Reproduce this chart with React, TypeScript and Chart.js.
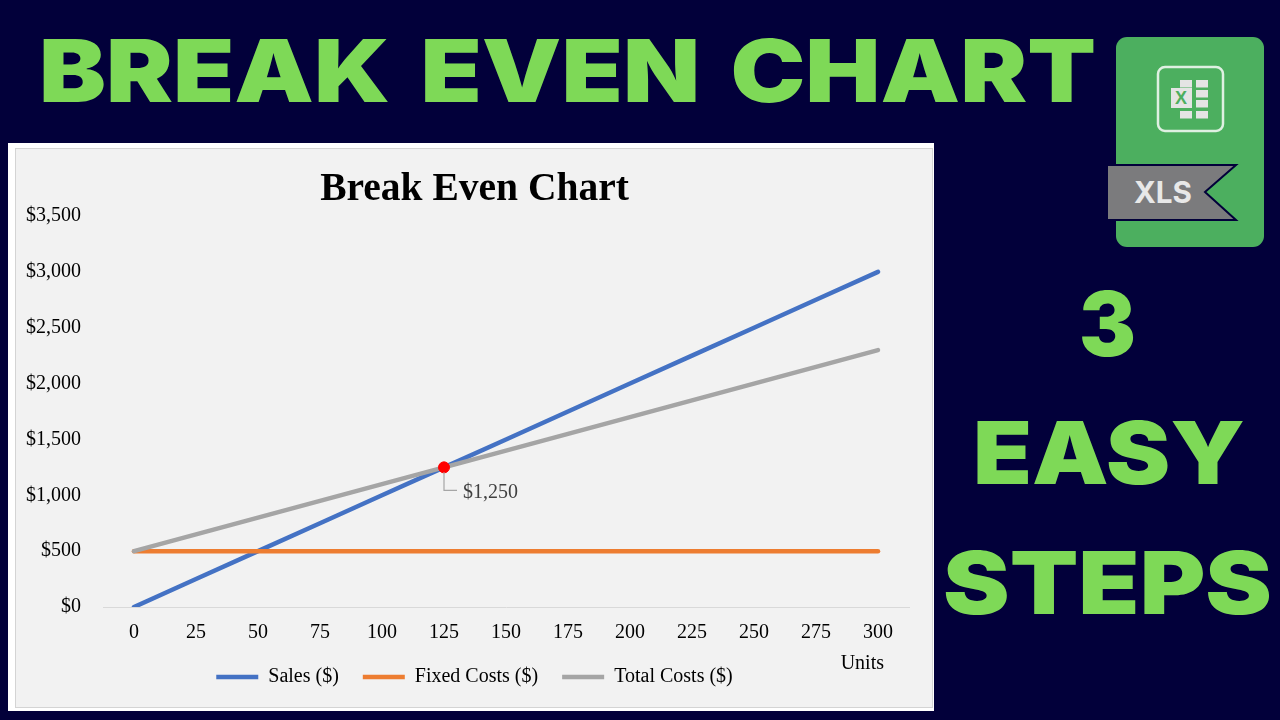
import React, { useEffect, useRef } from "react";
import { Chart, registerables } from "chart.js";

Chart.register(...registerables);

const chartTitle = "Break Even Chart";
const unitLabels = ["0", "25", "50", "75", "100", "125", "150", "175", "200", "225", "250", "275", "300"];
const salesValues = [0, 250, 500, 750, 1000, 1250, 1500, 1750, 2000, 2250, 2500, 2750, 3000];
const fixedCosts = [500, 500, 500, 500, 500, 500, 500, 500, 500, 500, 500, 500, 500];
const totalCosts = [500, 650, 800, 950, 1100, 1250, 1400, 1550, 1700, 1850, 2000, 2150, 2300];
const breakEven = [null, null, null, null, null, 1250, null, null, null, null, null, null, null];
const breakEvenLabel = "$1,250";
const xAxisLabel = "Units";

const SERIF = '"Liberation Serif", serif';
const GREEN = "#7ed957";
const NAVY = "#02003a";

const annotations = {
  id: "annotations",
  beforeDraw(chart: any) {
    chart.scales.y.left = 0;
  },
  afterDatasetsDraw(chart: any) {
    const { ctx, scales } = chart;
    const px = scales.x.getPixelForValue(5);
    const py = scales.y.getPixelForValue(1250);
    ctx.save();
    ctx.strokeStyle = "#a6a6a6";
    ctx.lineWidth = 1.2;
    ctx.beginPath();
    ctx.moveTo(px, py + 5);
    ctx.lineTo(px, py + 23);
    ctx.lineTo(px + 13, py + 23);
    ctx.stroke();
    ctx.font = `20px ${SERIF}`;
    ctx.fillStyle = "#404040";
    ctx.textBaseline = "middle";
    ctx.textAlign = "left";
    ctx.fillText(breakEvenLabel, px + 19, py + 25);
    ctx.fillStyle = "#000000";
    ctx.textAlign = "right";
    ctx.fillText(xAxisLabel, scales.x.right - 25, scales.x.top + 57);
    ctx.restore();
  },
};

function HeadWord({ text, x, base, len, size, gap }: any) {
  return (
    <text
      x={x}
      y={base}
      textLength={len}
      lengthAdjust="spacingAndGlyphs"
      wordSpacing={gap || 0}
      fontFamily="Inter, sans-serif"
      fontWeight={900}
      fontSize={size}
      fill={GREEN}
    >
      {text}
    </text>
  );
}

export default function App() {
  const ref = useRef<HTMLCanvasElement>(null);

  useEffect(() => {
    document.body.style.margin = "0";
    document.body.style.background = NAVY;
    const common = { pointRadius: 0, borderWidth: 4.5, borderCapStyle: "round", tension: 0, fill: false };
    const chart = new Chart(ref.current as HTMLCanvasElement, {
      type: "line",
      data: {
        labels: unitLabels,
        datasets: [
          { label: "Sales ($)", data: salesValues, borderColor: "#4472c4", backgroundColor: "#4472c4", order: 3, ...common },
          { label: "Fixed Costs ($)", data: fixedCosts, borderColor: "#ed7d31", backgroundColor: "#ed7d31", order: 2, ...common },
          { label: "Total Costs ($)", data: totalCosts, borderColor: "#a5a5a5", backgroundColor: "#a5a5a5", order: 1, ...common },
          {
            label: "Break Even",
            data: breakEven,
            showLine: false,
            pointRadius: 5.5,
            pointBackgroundColor: "#ff0000",
            pointBorderColor: "#ff0000",
            order: 0,
          },
        ],
      } as any,
      options: {
        responsive: false,
        animation: false,
        layout: { padding: { left: 24, right: 23, bottom: 10 } },
        plugins: {
          tooltip: { enabled: false },
          title: {
            display: true,
            text: chartTitle,
            color: "#000000",
            font: { family: SERIF, size: 39.5, weight: "bold", lineHeight: 1.2 },
            padding: { top: 17.3, bottom: 2.3 },
          },
          legend: {
            position: "bottom",
            labels: {
              usePointStyle: true,
              pointStyle: "line",
              pointStyleWidth: 42,
              padding: 24,
              color: "#000000",
              font: { family: SERIF, size: 20 },
              filter: (item: any) => item.datasetIndex !== 3,
              sort: (a: any, b: any) => a.datasetIndex - b.datasetIndex,
            },
          },
        },
        scales: {
          x: {
            offset: true,
            grid: { display: false, drawTicks: false },
            border: { color: "#d9d9d9", width: 1 },
            ticks: { color: "#000000", font: { family: SERIF, size: 20 }, padding: 14, maxRotation: 0, autoSkip: false },
            afterFit: (s: any) => { s.height = 36; },
          },
          y: {
            min: 0,
            max: 3500,
            grid: { display: false, drawTicks: false },
            border: { display: false },
            ticks: {
              stepSize: 500,
              color: "#000000",
              font: { family: SERIF, size: 20 },
              padding: 22,
              callback: (v: any) => "$" + Number(v).toLocaleString("en-US"),
            },
            afterFit: (s: any) => { s.width = 63; },
          },
        },
      } as any,
      plugins: [annotations],
    });
    return () => chart.destroy();
  }, []);

  return (
    <div style={{ position: "fixed", left: 0, top: 0, width: 1280, height: 720, background: NAVY, overflow: "hidden" }}>
      <svg width={1280} height={720} style={{ position: "absolute", left: 0, top: 0 }}>
        <HeadWord text="BREAK EVEN CHART" x={39} base={102} len={1057} size={87} gap={9} />
        <HeadWord text="3" x={1079} base={356} len={57} size={89} />
        <HeadWord text="EASY" x={973} base={484} len={272} size={87} />
        <HeadWord text="STEPS" x={943} base={614} len={329} size={87} />

        <rect x={1116} y={37} width={148} height={210} rx={11} fill="#4caf5f" />
        <rect x={1158} y={67} width={65} height={64} rx={7} fill="none" stroke="#dff0e2" strokeWidth={2.5} />
        {[80, 90, 100, 111].map((y) => (
          <g key={y}>
            <rect x={1180} y={y} width={12} height={7.5} fill="#e4e4e4" />
            <rect x={1196} y={y} width={12} height={7.5} fill="#e4e4e4" />
          </g>
        ))}
        <rect x={1171} y={88} width={21} height={20} fill="#e4e4e4" />
        <text x={1181} y={104} textAnchor="middle" fontFamily='"Liberation Sans", sans-serif' fontWeight={700} fontSize={18} fill="#4caf5f">X</text>
        <polygon points="1107,165 1236,165 1205,192 1236,220 1107,220" fill="#7b7b7d" stroke={NAVY} strokeWidth={2} />
        <text x={1134} y={203} textLength={58} lengthAdjust="spacingAndGlyphs" fontFamily="Inter, sans-serif" fontWeight={700} fontSize={30} fill="#e8e8e8">XLS</text>
      </svg>

      <div style={{ position: "absolute", left: 8, top: 143, width: 926, height: 568, background: "#ffffff" }} />
      <div style={{ position: "absolute", left: 15, top: 148, width: 918, height: 560, boxSizing: "border-box", border: "1.5px solid #d4d4d4", background: "#f2f2f2" }} />
      <canvas ref={ref} width={916} height={558} style={{ position: "absolute", left: 16, top: 149, width: 916, height: 558, display: "block" }} />
    </div>
  );
}
